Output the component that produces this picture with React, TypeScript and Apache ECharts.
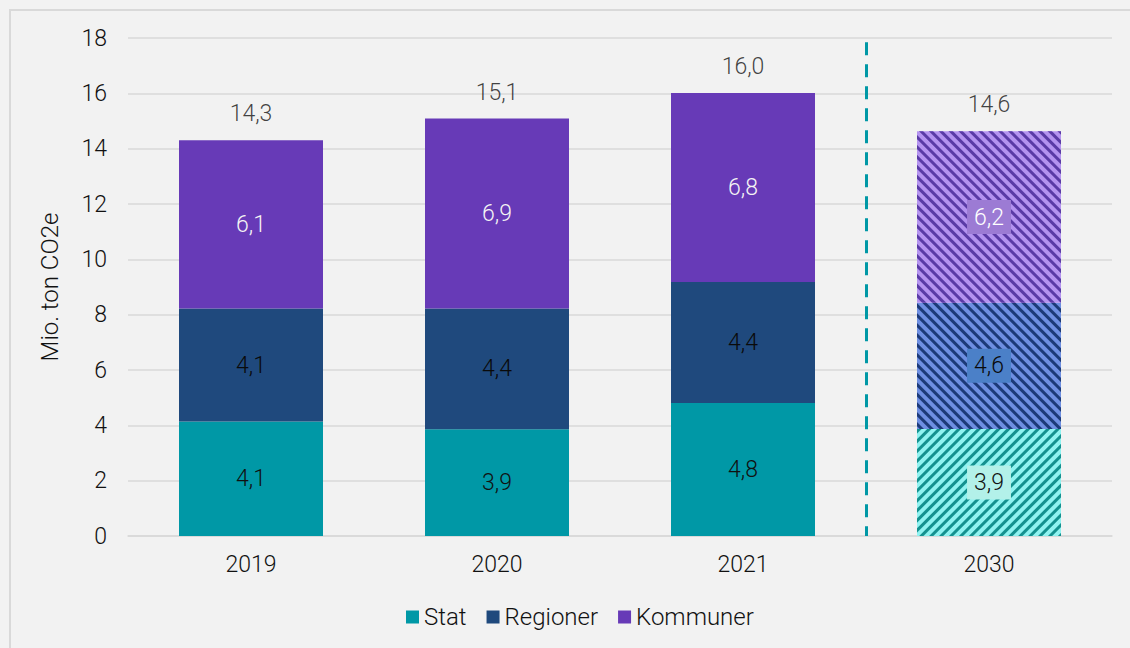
import React, { useEffect, useRef } from "react";
import * as echarts from "echarts";

const categories = ["2019", "2020", "2021", "2030"];
const stat = [4.14, 3.86, 4.81, 3.87];
const regioner = [4.08, 4.36, 4.37, 4.56];
const kommuner = [6.08, 6.87, 6.83, 6.2];
const projectionIndex = 3;
const dividerPosition = 3;
const dividerTop = 17.85;

const FONT = "Roboto";
const TEXT = "#111111";
const fmt = (v: number) => v.toFixed(1).replace(".", ",");

const baseColors = ["#0098a6", "#1f497d", "#673ab7"];
const hatchBase = ["#90f3f1", "#6e8fe2", "#b493f0"];
const hatchStripe = ["#14918f", "#1c3a78", "#5a3ba6"];
const hatchLabelBg = ["#b3f1e9", "#4b80c8", "#9c7bd4"];
const labelColors = ["#111111", "#0a0a0a", "#f4f4f4"];
const hatchLabelColors = ["#111111", "#0a0a0a", "#ffffff"];
const rotations = [-Math.PI / 4, Math.PI / 4, Math.PI / 4];

export default function App() {
  const ref = useRef<HTMLDivElement>(null);
  useEffect(() => {
    document.body.style.margin = "0";
    document.body.style.background = "#f2f2f2";
    const chart = echarts.init(ref.current!, null, { renderer: "svg" });
    const seriesArrays = [stat, regioner, kommuner];
    const names = ["Stat", "Regioner", "Kommuner"];
    const totals = categories.map((_, i) => stat[i] + regioner[i] + kommuner[i]);

    const barSeries = seriesArrays.map((arr, s) => ({
      name: names[s],
      type: "bar",
      stack: "total",
      barWidth: 144,
      itemStyle: { color: baseColors[s] },
      label: {
        show: true,
        position: "inside",
        color: labelColors[s],
        fontFamily: FONT,
        fontWeight: 300,
        fontSize: 23,
        formatter: (p: any) => fmt(p.value),
      },
      data: arr.map((v, i) =>
        i === projectionIndex
          ? {
              value: v,
              itemStyle: {
                color: hatchBase[s],
                decal: {
                  symbol: "rect",
                  symbolSize: 1,
                  dashArrayX: [1, 0],
                  dashArrayY: [3, 4],
                  rotation: rotations[s],
                  color: hatchStripe[s],
                },
              },
              label: {
                color: hatchLabelColors[s],
                backgroundColor: hatchLabelBg[s],
                padding: [6, 7, 5, 7],
              },
            }
          : v
      ),
    }));

    chart.setOption({
      animation: false,
      backgroundColor: "#f2f2f2",
      textStyle: { fontFamily: FONT },
      graphic: [
        {
          type: "rect",
          shape: { x: 10, y: 10, width: 1300, height: 800 },
          style: { fill: "none", stroke: "#d9d9d9", lineWidth: 2 },
          silent: true,
        },
      ],
      grid: { left: 128, right: 18, top: 38, bottom: 112 },
      legend: {
        data: names,
        left: 401,
        top: 600,
        icon: "rect",
        itemWidth: 13,
        itemHeight: 13,
        itemGap: 20,
        textStyle: { fontFamily: FONT, fontWeight: 300, fontSize: 24, color: TEXT },
      },
      xAxis: [
        {
          type: "category",
          data: categories,
          axisLine: { lineStyle: { color: "#d9d9d9", width: 1.5 } },
          axisTick: { show: false },
          axisLabel: { fontFamily: FONT, fontWeight: 300, fontSize: 23, color: TEXT, margin: 17 },
        },
        { type: "value", min: 0, max: categories.length, show: false },
      ],
      yAxis: {
        type: "value",
        min: 0,
        max: 18,
        interval: 2,
        name: "Mio. ton CO2e",
        nameLocation: "middle",
        nameGap: 66,
        nameTextStyle: { fontFamily: FONT, fontWeight: 300, fontSize: 24, color: TEXT },
        axisLine: { show: false },
        axisTick: { show: false },
        axisLabel: { fontFamily: FONT, fontWeight: 300, fontSize: 23, color: TEXT, margin: 21 },
        splitLine: { lineStyle: { color: "#d9d9d9", width: 1.5 } },
      },
      series: [
        ...barSeries,
        {
          name: "total",
          type: "scatter",
          symbolSize: 0,
          silent: true,
          label: {
            show: true,
            position: "top",
            distance: 15,
            color: TEXT,
            fontFamily: FONT,
            fontWeight: 300,
            fontSize: 23,
            formatter: (p: any) => fmt(p.value),
          },
          data: totals,
        },
        {
          name: "divider",
          type: "scatter",
          xAxisIndex: 1,
          symbolSize: 0,
          silent: true,
          data: [[dividerPosition, 0]],
          markLine: {
            silent: true,
            symbol: "none",
            label: { show: false },
            lineStyle: { color: "#0098a6", width: 3, type: [13, 9] },
            data: [[{ coord: [dividerPosition, dividerTop] }, { coord: [dividerPosition, 0] }]],
          },
        },
      ],
    });
    return () => chart.dispose();
  }, []);
  return <div ref={ref} style={{ width: 1130, height: 648 }} />;
}
